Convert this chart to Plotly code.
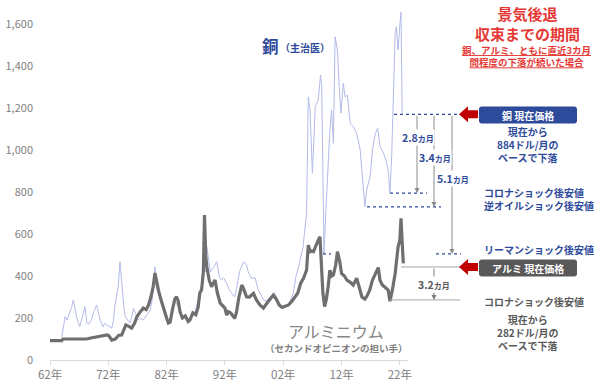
import plotly.graph_objects as go

# ---------------- data ----------------
al_years = [1962.0, 1963.0, 1964.0, 1964.2, 1965.0, 1966.0, 1967.0, 1968.3, 1969.0, 1970.0,
            1971.0, 1971.8, 1972.1, 1972.6, 1973.2, 1973.8, 1974.3, 1974.8, 1975.0, 1975.5,
            1976.0, 1976.5, 1976.9, 1977.5, 1978.0, 1978.5, 1978.9, 1979.3, 1979.7, 1980.0,
            1980.3, 1980.6, 1981.0, 1981.5, 1982.0, 1982.3, 1982.6, 1983.0, 1983.4, 1983.7,
            1984.0, 1984.3, 1984.7, 1985.2, 1985.7, 1986.0, 1986.5, 1987.0, 1987.4, 1987.7,
            1988.0, 1988.3, 1988.5, 1988.7, 1988.9, 1989.3, 1989.7, 1990.3, 1990.7, 1991.2,
            1991.6, 1992.0, 1992.3, 1992.6, 1993.0, 1993.4, 1993.7, 1994.0, 1994.4, 1994.9,
            1995.2, 1995.7, 1996.2, 1996.9, 1997.4, 1998.0, 1998.6, 1999.2, 1999.7, 2000.3,
            2000.8, 2001.3, 2001.8, 2002.4, 2002.9, 2003.5, 2004.0, 2004.5, 2005.0, 2005.5,
            2006.0, 2006.3, 2006.6, 2006.9, 2007.2, 2007.7, 2008.0, 2008.3, 2008.5, 2008.8,
            2009.1, 2009.4, 2009.7, 2010.0, 2010.3, 2010.6, 2011.0, 2011.3, 2011.7, 2012.0,
            2012.5, 2012.9, 2013.5, 2014.0, 2014.6, 2015.0, 2015.5, 2016.0, 2016.3, 2016.8,
            2017.3, 2017.8, 2018.3, 2018.6, 2019.0, 2019.5, 2020.0, 2020.3, 2020.7, 2021.2,
            2021.5, 2021.7, 2022.0, 2022.2, 2022.4, 2022.6]
al_values = [92, 92, 92, 100, 100, 100, 100, 100, 105, 110,
             113, 119, 115, 95, 100, 118, 119, 150, 167, 160,
             152, 175, 206, 230, 247, 240, 262, 300, 350, 414,
             370, 333, 290, 240, 200, 176, 180, 240, 290, 301,
             280, 230, 200, 210, 183, 190, 224, 215, 250, 320,
             333, 420, 690, 500, 444, 380, 349, 381, 320, 271,
             260, 247, 214, 230, 224, 206, 198, 230, 300, 357,
             340, 301, 300, 317, 286, 262, 247, 270, 290, 309,
             290, 262, 250, 257, 262, 280, 300, 319, 366, 390,
             428, 547, 516, 520, 516, 555, 571, 587, 444, 320,
             254, 290, 349, 428, 400, 405, 452, 516, 468, 412,
             400, 381, 370, 357, 389, 350, 300, 290, 301, 330,
             380, 410, 440, 380, 357, 345, 333, 280, 330, 412,
             480, 539, 570, 675, 560, 460]

cu_years = [1964.0, 1964.3, 1964.6, 1964.9, 1965.2, 1965.4, 1965.7, 1966.0, 1966.3, 1966.6,
            1966.9, 1967.1, 1967.5, 1968.0, 1968.3, 1968.6, 1969.1, 1969.5, 1970.0, 1970.3,
            1970.6, 1971.1, 1971.4, 1971.7, 1972.1, 1972.6, 1972.9, 1973.1, 1973.5, 1973.7,
            1974.0, 1974.2, 1974.4, 1974.7, 1974.9, 1975.3, 1975.7, 1976.0, 1976.3, 1976.7,
            1977.1, 1977.5, 1978.0, 1978.5, 1979.2, 1979.6, 1980.0, 1980.2, 1980.6, 1981.0,
            1981.5, 1982.0, 1982.5, 1983.0, 1983.5, 1984.0, 1984.5, 1985.0, 1985.5, 1986.0,
            1986.5, 1987.0, 1987.5, 1988.0, 1988.4, 1988.7, 1988.9, 1989.2, 1989.5, 1990.0,
            1990.6, 1991.0, 1991.4, 1991.8, 1992.3, 1992.8, 1993.2, 1993.7, 1994.0, 1994.5,
            1995.2, 1995.7, 1996.0, 1996.5, 1997.2, 1997.7, 1998.2, 1998.6, 1999.0, 1999.5,
            2000.0, 2000.5, 2001.0, 2001.5, 2002.0, 2002.5, 2003.0, 2003.7, 2004.2, 2004.7,
            2005.4, 2006.0, 2006.3, 2006.6, 2007.0, 2007.3, 2007.5, 2008.0, 2008.4, 2008.6,
            2008.8, 2009.0, 2009.3, 2009.7, 2010.0, 2010.3, 2010.6, 2010.9, 2011.1, 2011.3,
            2011.6, 2011.9, 2012.3, 2012.6, 2013.0, 2013.5, 2014.0, 2014.6, 2015.2, 2015.7,
            2016.0, 2016.3, 2016.9, 2017.3, 2017.8, 2018.2, 2018.6, 2019.2, 2019.6, 2020.0,
            2020.3, 2020.6, 2020.9, 2021.2, 2021.4, 2021.7, 2022.0, 2022.2, 2022.4]
cu_values = [110, 150, 206, 190, 215, 224, 250, 286, 240, 200,
             175, 159, 200, 254, 180, 170, 190, 230, 262, 230,
             190, 159, 175, 167, 160, 152, 190, 254, 320, 349,
             468, 400, 317, 240, 206, 190, 176, 200, 246, 220,
             190, 200, 190, 210, 238, 300, 444, 350, 320, 280,
             230, 200, 180, 230, 280, 250, 210, 210, 200, 195,
             215, 240, 300, 360, 450, 420, 539, 480, 420, 440,
             468, 400, 381, 390, 365, 330, 317, 300, 340, 420,
             468, 452, 420, 390, 390, 333, 310, 286, 280, 295,
             310, 320, 290, 262, 246, 255, 270, 317, 400, 450,
             539, 698, 1253, 1190, 889, 1100, 1206, 1238, 1357, 1301,
             900, 505, 700, 952, 1095, 1190, 1032, 1539, 1500, 1476,
             1301, 1175, 1317, 1254, 1260, 1127, 1111, 1079, 1000, 841,
             730, 810, 873, 1000, 1079, 1103, 1016, 984, 952, 905,
             795, 968, 1254, 1555, 1587, 1476, 1595, 1660, 1175]

tick_years = [1962, 1972, 1982, 1992, 2002, 2012, 2022]
tick_labels = ["62年", "72年", "82年", "92年", "02年", "12年", "22年"]
y_ticks = [0, 200, 400, 600, 800, 1000, 1200, 1400, 1600]

cu_now = 1170
cu_lows = [795, 729, 505]          # コロナ / 逆オイル / リーマン
cu_months = ["2.8", "3.4", "5.1"]
al_now = 443
al_low = 286
al_months = "3.2"

# ---------------- layout geometry ----------------
W_FIG, H_FIG = 600, 388
L, R, T, B = 50, 408, 12, 360
PW, PH = R - L, B - T
YMAX = 1657
XMIN, XMAX = 1962, 2023.4

def px(x):
    return (x - L) / PW

def py(y):
    return (B - y) / PH

def vy(v):
    return v / YMAX

FONT = "Noto Sans CJK JP"
BLUE = "#2e4a9a"
RED = "#e53935"
DRED = "#c00000"
GRAY = "#595959"
LGRAY = "#a6a6a6"

fig = go.Figure()
fig.add_trace(go.Scatter(x=cu_years, y=cu_values, mode="lines",
                         line=dict(color="#b3bbe8", width=1), hoverinfo="skip"))
fig.add_trace(go.Scatter(x=al_years, y=al_values, mode="lines",
                         line=dict(color="#6f6f6f", width=3.2), hoverinfo="skip"))

shapes = []
ann = []

def hline(x0, x1, v, color, dash=None, width=1.2):
    shapes.append(dict(type="line", xref="paper", yref="paper",
                       x0=px(x0), x1=px(x1), y0=vy(v), y1=vy(v),
                       line=dict(color=color, width=width, dash=dash)))

def varrow(x, v_from, v_to, color="#8c8c8c"):
    length = (v_from - v_to) / YMAX * PH
    ann.append(dict(xref="paper", yref="paper", x=px(x), y=vy(v_to), text="",
                    showarrow=True, ax=0, ay=-length, arrowhead=2, arrowsize=1.0,
                    arrowwidth=1, arrowcolor=color, standoff=0, startstandoff=0))

def text(x, y, s, size=11, color=BLUE, bold=True, xanchor="center", bg=None):
    d = dict(xref="paper", yref="paper", x=px(x), y=py(y),
             text=("<b>%s</b>" % s) if bold else s, showarrow=False,
             xanchor=xanchor, yanchor="middle", align=xanchor if xanchor != "center" else "center",
             font=dict(family=FONT, size=size, color=color))
    if bg:
        d["bgcolor"] = bg
        d["borderpad"] = 0
    ann.append(d)

def left_arrow(x_tip, v, color=DRED):
    y = (B - v / YMAX * PH)
    pts = [(x_tip, y), (x_tip + 9, y - 8), (x_tip + 9, y - 4), (x_tip + 19, y - 4),
           (x_tip + 19, y + 4), (x_tip + 9, y + 4), (x_tip + 9, y + 8)]
    path = "M " + " L ".join("%f,%f" % (px(a), py(b)) for a, b in pts) + " Z"
    shapes.append(dict(type="path", xref="paper", yref="paper", path=path,
                       fillcolor=color, line=dict(width=0)))

def rbox(x0, x1, yc, h, color, r=3):
    y0, y1 = yc - h / 2, yc + h / 2
    def P(a, b):
        return "%f,%f" % (px(a), py(b))
    path = ("M " + P(x0 + r, y0) + " L " + P(x1 - r, y0) + " Q " + P(x1, y0) + " " + P(x1, y0 + r) +
            " L " + P(x1, y1 - r) + " Q " + P(x1, y1) + " " + P(x1 - r, y1) +
            " L " + P(x0 + r, y1) + " Q " + P(x0, y1) + " " + P(x0, y1 - r) +
            " L " + P(x0, y0 + r) + " Q " + P(x0, y0) + " " + P(x0 + r, y0) + " Z")
    shapes.append(dict(type="path", xref="paper", yref="paper", path=path,
                       fillcolor=color, line=dict(width=0)))

# copper guide lines
hline(394, 458, cu_now, BLUE, "dot")
hline(390, 427, cu_lows[0], BLUE, "dot")
hline(367, 441, cu_lows[1], BLUE, "dot")
hline(323, 331, cu_lows[2], BLUE, "dot")
hline(436, 461, cu_lows[2], BLUE, "dot")
for xv, low in zip([417, 434, 452], cu_lows):
    varrow(xv, cu_now, low)
for (xl, yl), m in zip([(418, 137), (435, 157), (453, 178)], cu_months):
    text(xl, yl, m + "<span style='font-size:8px'>カ月</span>", size=10.5, color=BLUE, bg="white")

# aluminium guide lines
hline(401, 460, al_now, LGRAY, None, 1)
hline(390, 460, al_low, LGRAY, None, 1)
varrow(434, al_now, al_low, "#7f7f7f")
text(434, 284, al_months + "<span style='font-size:8px'>カ月</span>", size=10.5, color=GRAY, bg="white")

# arrows + boxes
left_arrow(459, cu_now)
rbox(479, 577, 115, 17, "#2e4a9a")
text(528, 115, "銅 現在価格", size=10, color="white")
left_arrow(459, al_now)
rbox(479, 577, 268, 17, "#595959")
text(528, 268, "アルミ 現在価格", size=10, color="white")

# right-side texts
text(527, 23, "景気後退<br>収束までの期間", size=15, color=RED)
text(526, 56, "<u>銅、アルミ、ともに直近3カ月</u><br><u>間程度の下落が続いた場合</u>", size=9.5, color=RED)

text(528, 144, "現在から<br>884ドル/月の<br>ベースで下落", size=10)

text(482, 199, "コロナショック後安値<br>逆オイルショック後安値", size=10, xanchor="left")
text(482, 249, "リーマンショック後安値", size=10, xanchor="left")

text(482, 301, "コロナショック後安値", size=10, color=GRAY, xanchor="left")
text(528, 332, "現在から<br>282ドル/月の<br>ベースで下落", size=10, color=GRAY)

# series labels
text(270, 46, "銅", size=16.5, color=BLUE)
text(305, 48, "（主治医）", size=10, color=BLUE)
text(336, 331, "アルミニウム", size=16, color="#858585", bold=False)
text(336, 348, "（セカンドオピニオンの担い手）", size=9.5, color="#7f7f7f")

fig.update_layout(
    width=W_FIG, height=H_FIG,
    margin=dict(l=L, r=W_FIG - R, t=T, b=H_FIG - B),
    paper_bgcolor="white", plot_bgcolor="white",
    showlegend=False,
    font=dict(family=FONT, color="#7f7f7f"),
    shapes=shapes, annotations=ann,
    xaxis=dict(range=[XMIN, XMAX], tickvals=tick_years, ticktext=tick_labels,
               showgrid=False, zeroline=False, showline=True, linecolor="#d9d9d9",
               linewidth=1, ticks="outside", ticklen=4, tickcolor="#d9d9d9",
               automargin=False,
               tickfont=dict(size=11.5, color="#7f7f7f", family=FONT)),
    yaxis=dict(range=[0, YMAX], tickvals=y_ticks, tickformat=",",
               showgrid=False, zeroline=False, showline=False, ticks="",
               ticklabelstandoff=16, automargin=False,
               tickfont=dict(size=11, color="#7f7f7f", family=FONT)),
)

fig.write_html("out.html", config={"displayModeBar": False},
               post_script="document.body.style.margin='0';document.body.style.overflow='hidden';")
